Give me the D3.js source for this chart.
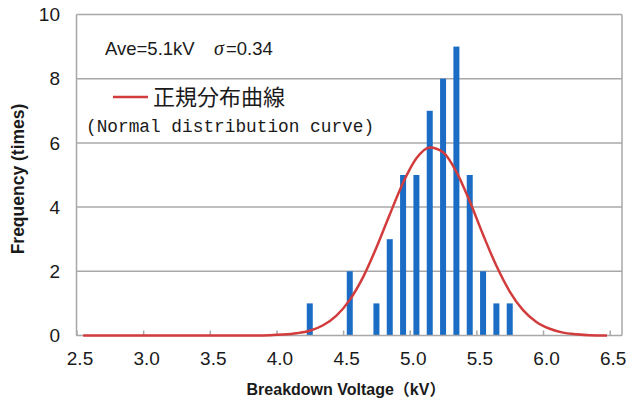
<!DOCTYPE html>
<html>
<head>
<meta charset="utf-8">
<script src="https://cdn.jsdelivr.net/npm/d3@7"></script>
<style>
  body { margin: 0; background: #fff; }
  svg text { fill: #1a1a1a; }
</style>
</head>
<body>
<script>
// bin centers (kV) and counts
var binCenters = [4.25, 4.55, 4.75, 4.85, 4.95, 5.05, 5.15, 5.25, 5.35, 5.45, 5.55, 5.65, 5.75];
var counts     = [1, 2, 1, 3, 5, 5, 7, 8, 9, 5, 2, 1, 1];

// normal distribution curve
var curveX = [2.55, 3.85, 3.95, 4.05, 4.15, 4.25, 4.35, 4.45, 4.55, 4.65, 4.75, 4.85, 4.95, 5.05,
              5.15, 5.25, 5.35, 5.45, 5.55, 5.65, 5.75, 5.85, 5.95, 6.05, 6.15, 6.25, 6.35, 6.48];
var curveY = [0, 0.003, 0.01, 0.03, 0.07, 0.15, 0.32, 0.62, 1.11, 1.82, 2.74, 3.77, 4.76, 5.52,
              5.86, 5.71, 5.10, 4.18, 3.14, 2.17, 1.37, 0.79, 0.42, 0.21, 0.09, 0.04, 0.01, 0];

var xTicks = [2.5, 3.0, 3.5, 4.0, 4.5, 5.0, 5.5, 6.0, 6.5];
var yTicks = [0, 2, 4, 6, 8, 10];

var W = 626, H = 408;
var pLeft = 76.5, pRight = 622, pTop = 14.5, pBottom = 335.5;

var svg = d3.select("body").append("svg")
    .attr("width", W)
    .attr("height", H);

var x = d3.scaleLinear().domain([2.5, 6.5]).range([pLeft, 609.7]);
var y = d3.scaleLinear().domain([0, 10]).range([pBottom, pTop]);

// gridlines
svg.append("g").selectAll("line")
  .data(yTicks.slice(1))
  .enter().append("line")
  .attr("x1", pLeft).attr("x2", pRight)
  .attr("y1", function(d) { return y(d); })
  .attr("y2", function(d) { return y(d); })
  .attr("stroke", "#a8a8a8")
  .attr("stroke-width", 1.5);

// frame sides
svg.append("line").attr("x1", pLeft).attr("x2", pLeft).attr("y1", pTop).attr("y2", pBottom)
  .attr("stroke", "#a8a8a8").attr("stroke-width", 1.5);
svg.append("line").attr("x1", pRight).attr("x2", pRight).attr("y1", pTop).attr("y2", pBottom)
  .attr("stroke", "#a8a8a8").attr("stroke-width", 1.5);

// bars
svg.append("g").selectAll("rect")
  .data(counts)
  .enter().append("rect")
  .attr("x", function(d, i) { return x(binCenters[i]) - 3; })
  .attr("width", 6)
  .attr("y", function(d) { return y(d); })
  .attr("height", function(d) { return y(0) - y(d); })
  .attr("fill", "#1a6cc4");

// x axis
var xAxis = svg.append("g")
  .attr("transform", "translate(0," + pBottom + ")")
  .call(d3.axisBottom(x).tickValues(xTicks).tickSize(-5).tickSizeOuter(0)
    .tickFormat(d3.format(".1f")));
xAxis.select(".domain").attr("d", "M" + pLeft + ",0H" + pRight)
  .attr("stroke", "#a8a8a8").attr("stroke-width", 1.5);
xAxis.selectAll(".tick line").attr("stroke", "#a8a8a8").attr("stroke-width", 1.5);
xAxis.selectAll(".tick text")
  .attr("y", 16).attr("dx", 3)
  .style("font-family", "Liberation Sans, Arial, sans-serif")
  .style("font-size", "19px");

// y axis labels
svg.append("g").selectAll("text")
  .data(yTicks)
  .enter().append("text")
  .attr("x", 60)
  .attr("y", function(d) { return y(d); })
  .attr("dy", "0.35em")
  .attr("text-anchor", "end")
  .style("font-family", "Liberation Sans, Arial, sans-serif")
  .style("font-size", "19px")
  .text(function(d) { return d; });

// normal curve
var line = d3.line()
  .x(function(d, i) { return x(curveX[i]); })
  .y(function(d) { return y(d); })
  .curve(d3.curveMonotoneX);

svg.append("path")
  .datum(curveY)
  .attr("d", line)
  .attr("fill", "none")
  .attr("stroke", "#d23c3c")
  .attr("stroke-width", 2.5);

// axis titles
svg.append("text")
  .attr("x", 346).attr("y", 395)
  .attr("text-anchor", "middle")
  .style("font-family", "Liberation Sans, 'Noto Sans CJK JP', sans-serif")
  .style("font-weight", "bold")
  .style("font-size", "16px")
  .text("Breakdown Voltage（kV）");

svg.append("text")
  .attr("transform", "translate(24," + ((pTop + pBottom) / 2 + 4) + ") rotate(-90)")
  .attr("text-anchor", "middle")
  .style("font-family", "Liberation Sans, 'Noto Sans CJK JP', sans-serif")
  .style("font-weight", "bold")
  .style("font-size", "17.5px")
  .text("Frequency (times)");

// annotation + legend
svg.append("text")
  .attr("x", 105).attr("y", 55)
  .style("font-family", "Liberation Sans, Arial, sans-serif")
  .style("font-size", "18.5px")
  .text("Ave=5.1kV");
svg.append("text")
  .attr("x", 214).attr("y", 55)
  .style("font-family", "Liberation Serif, serif")
  .style("font-style", "italic")
  .style("font-size", "20px")
  .text("σ");
svg.append("text")
  .attr("x", 226).attr("y", 55)
  .style("font-family", "Liberation Sans, Arial, sans-serif")
  .style("font-size", "18.5px")
  .text("=0.34");

svg.append("line")
  .attr("x1", 113).attr("x2", 148).attr("y1", 97).attr("y2", 97)
  .attr("stroke", "#d23c3c").attr("stroke-width", 2.5);
svg.append("text")
  .attr("x", 153).attr("y", 105)
  .style("font-family", "'Noto Sans CJK JP', sans-serif")
  .style("font-size", "22px")
  .text("正規分布曲線");
svg.append("text")
  .attr("x", 86).attr("y", 132)
  .style("font-family", "Liberation Mono, monospace")
  .style("font-size", "17.8px")
  .text("(Normal distribution curve)");
</script>
</body>
</html>
